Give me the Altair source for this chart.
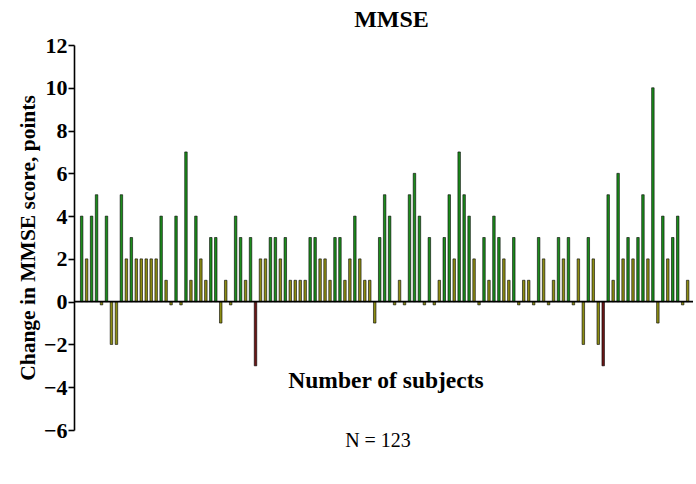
import altair as alt
import pandas as pd

# Change in MMSE score for each of the 123 subjects (in subject order)
subjects = list(range(1, 124))
change = [
    4, 2, 4, 5, -0.15, 4, -2, -2, 5, 2,
    3, 2, 2, 2, 2, 2, 4, 1, -0.15, 4,
    -0.15, 7, 1, 4, 2, 1, 3, 3, -1, 1,
    -0.15, 4, 3, 1, 3, -3, 2, 2, 3, 3,
    2, 3, 1, 1, 1, 1, 3, 3, 2, 2,
    1, 3, 3, 1, 2, 4, 2, 1, 1, -1,
    3, 5, 4, -0.15, 1, -0.15, 5, 6, 4, -0.15,
    3, -0.15, 1, 3, 5, 2, 7, 5, 4, 2,
    -0.15, 3, 1, 4, 3, 2, 1, 3, -0.15, 1,
    1, -0.15, 3, 2, -0.15, 1, 3, 2, 3, -0.15,
    2, -2, 3, 2, -2, -3, 5, 1, 6, 2,
    3, 2, 3, 5, 2, 10, -1, 4, 2, 3,
    4, -0.15, 1,
]

# colour group by size of change
def group(v):
    if v >= 3:
        return "large"
    if v <= -3:
        return "decline"
    return "small"

df = pd.DataFrame({"subject": subjects, "change": change})
df["group"] = [group(v) for v in change]

W, H = 619, 385
FONT = "Liberation Serif"

bars = alt.Chart(df).mark_bar(
    width=2.5, stroke="black", strokeWidth=0.6
).encode(
    x=alt.X("subject:Q", scale=alt.Scale(domain=[0.465, 123.07], nice=False, zero=False), axis=None),
    y=alt.Y(
        "change:Q",
        scale=alt.Scale(domain=[-6, 12], nice=False),
        axis=alt.Axis(
            values=list(range(-6, 13, 2)),
            title="Change in MMSE score, points",
            titleFont=FONT, titleFontSize=21.5, titleFontWeight="bold", titleColor="black",
            labelFont=FONT, labelFontSize=22, labelFontWeight="bold", labelColor="black",
            labelPadding=1, tickSize=6, tickWidth=1.6, tickColor="black",
            domainColor="black", domainWidth=1.6, grid=False, titlePadding=4,
        ),
    ),
    color=alt.Color(
        "group:N",
        scale=alt.Scale(domain=["large", "small", "decline"], range=["#1c8c1c", "#8c8c14", "#6a1616"]),
        legend=None,
    ),
)

zero = alt.Chart(pd.DataFrame({"z": [0]})).mark_rule(color="black", strokeWidth=1.6).encode(
    y="z:Q", x=alt.value(0), x2=alt.value(W)
)

xtitle = alt.Chart(pd.DataFrame({"t": ["Number of subjects"]})).mark_text(
    font=FONT, fontSize=23.5, fontWeight="bold", color="black", baseline="middle"
).encode(text="t:N", x=alt.value(312), y=alt.value(336))

ncount = alt.Chart(pd.DataFrame({"t": ["N = 123"]})).mark_text(
    font=FONT, fontSize=20, color="black", baseline="middle"
).encode(text="t:N", x=alt.value(304), y=alt.value(396))

chart = alt.layer(bars, zero, xtitle, ncount).properties(
    width=W, height=H,
    title=alt.TitleParams("MMSE", font=FONT, fontSize=24, fontWeight="bold", color="black",
                          offset=2, dx=8),
    autosize=alt.AutoSizeParams(type="none"),
    padding={"left": 74, "top": 45, "right": 3, "bottom": 54},
).configure_view(stroke=None)

chart.save("out.html", embed_options={"renderer": "svg", "actions": False})
